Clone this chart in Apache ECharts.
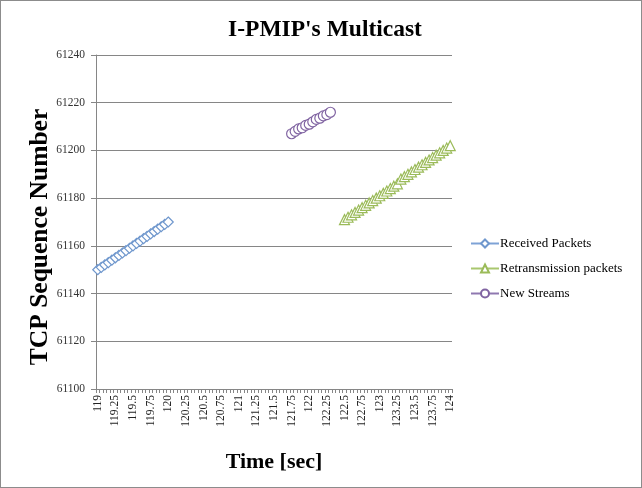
<!DOCTYPE html>
<html>
<head>
<meta charset="utf-8">
<script src="https://cdn.jsdelivr.net/npm/echarts@6/dist/echarts.min.js"></script>
<style>
html,body{margin:0;padding:0;background:#fff;}
#frame{position:absolute;left:0;top:0;width:640px;height:486px;border:1px solid #8c8c8c;}
#c{position:absolute;left:0;top:0;width:642px;height:488px;}
</style>
</head>
<body>
<div id="frame"></div>
<div id="c"></div>
<script>
// Tick labels shown every 5th category (0.25 s); categories step 0.05 s
const tickLabels = ['119','119.25','119.5','119.75','120','120.25','120.5','120.75','121','121.25','121.5','121.75','122','122.25','122.5','122.75','123','123.25','123.5','123.75','124'];
const categoryStep = 0.05;
const categoryCount = 101;

// Series: start category index + values
const receivedStart = 0;
const receivedValues = [61150,61151,61152,61153,61154,61155,61156,61157,61158,61159,61160,61161,61162,61163,61164,61165,61166,61167,61168,61169,61170];
const newStreamsStart = 55;
const newStreamsValues = [61207,61208,61209,61209.5,61210.5,61211,61212,61213,61213.5,61214.5,61215,61216];
const retransStart = 70;
const retransValues = [61171,61172,61173,61174,61175,61176,61177,61178,61179,61180,61181,61182,61183,61184,61185,61186,61188,61189,61190,61191,61192,61193,61194,61195,61196,61197,61198,61199,61200,61201,61202];

const categories = [];
for (let i = 0; i < categoryCount; i++) {
  categories.push((119 + i * categoryStep).toFixed(2));
}
function labelFor(i){ return i % 5 === 0 ? tickLabels[i/5] : ''; }
function build(start, vals){
  const d = new Array(categoryCount).fill(null);
  vals.forEach((v,k)=>{ d[start+k] = v; });
  return d;
}

const serif = "'Liberation Serif','Times New Roman',serif";
const chart = echarts.init(document.getElementById('c'));
chart.setOption({
  animation:false,
  title:{text:"I-PMIP's Multicast",left:320,textAlign:'center',top:13,
    textStyle:{fontFamily:serif,fontSize:23.5,fontWeight:'bold',color:'#000'}},
  graphic:[{type:'text',x:40,y:237,rotation:Math.PI/2,
    style:{text:'TCP Sequence Number',fontFamily:serif,fontSize:25.5,fontWeight:'bold',fill:'#000',
      align:'center',verticalAlign:'middle'}}],
  grid:{left:96,right:190,top:55,bottom:99},
  legend:{orient:'vertical',left:465,top:232,itemWidth:28,itemHeight:10,itemGap:12,
    textStyle:{fontFamily:serif,fontSize:13,color:'#000',padding:[0,0,0,-4]},
    data:['Received Packets','Retransmission packets','New Streams']},
  xAxis:{type:'category',data:categories,boundaryGap:true,
    name:'Time [sec]',nameLocation:'middle',nameGap:62,
    nameTextStyle:{fontFamily:serif,fontSize:22,fontWeight:'bold',color:'#000'},
    axisLine:{lineStyle:{color:'#868686',width:1}},
    axisTick:{show:true,interval:0,length:4,lineStyle:{color:'#868686'}},
    axisLabel:{interval:0,rotate:90,margin:6,fontFamily:serif,fontSize:11.5,color:'#222',
      formatter:(v,i)=>labelFor(i)},
    splitLine:{show:false}},
  yAxis:{type:'value',min:61100,max:61240,interval:20,
    axisLine:{show:true,lineStyle:{color:'#868686',width:1}},
    axisTick:{show:true,length:5,lineStyle:{color:'#868686'}},
    axisLabel:{margin:11,fontFamily:serif,fontSize:11.5,color:'#333',formatter:v=>String(v)},
    splitLine:{lineStyle:{color:'#868686',width:1}}},
  series:[
    {name:'Received Packets',type:'line',data:build(receivedStart,receivedValues),
      symbol:'diamond',symbolSize:10,showAllSymbol:true,
      itemStyle:{color:'#fff',borderColor:'#6f97cd',borderWidth:1.2},
      lineStyle:{color:'#7ea3d6',width:1.2},color:'#7ea3d6'},
    {name:'Retransmission packets',type:'line',data:build(retransStart,retransValues),
      symbol:'triangle',symbolSize:10,showAllSymbol:true,
      itemStyle:{color:'#fff',borderColor:'#9bbb59',borderWidth:1.2},
      lineStyle:{color:'#a9c76e',width:1.2},color:'#9bbb59'},
    {name:'New Streams',type:'line',data:build(newStreamsStart,newStreamsValues),
      symbol:'circle',symbolSize:10,showAllSymbol:true,
      itemStyle:{color:'#fff',borderColor:'#8064a2',borderWidth:1.2},
      lineStyle:{color:'#8f78b0',width:1.2},color:'#8064a2'}
  ]
});
</script>
</body>
</html>
